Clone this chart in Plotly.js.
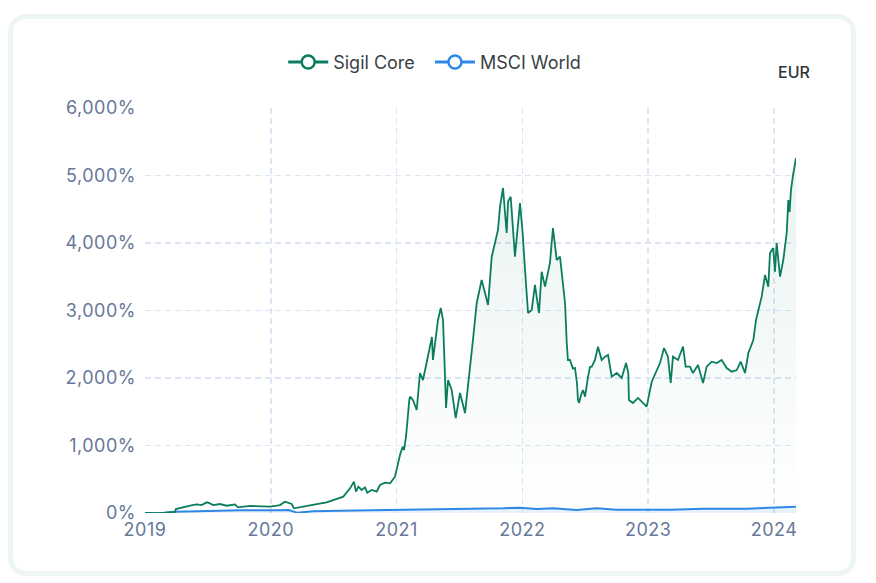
<!DOCTYPE html>
<html>
<head>
<meta charset="utf-8">
<script src="https://cdn.plot.ly/plotly-3.0.1.min.js"></script>
<style>
	html, body { margin: 0; padding: 0; background: #ffffff; }
	#card {
		position: absolute; left: 8px; top: 14px;
		width: 838px; height: 552px;
		border: 5px solid #eef6f3; border-radius: 18px;
		background: #ffffff;
	}
	#chart { position: absolute; left: 0; top: 0; width: 876px; height: 583px; }
	#chart .xtick text, #chart .ytick text { letter-spacing: 0.5px; }
</style>
</head>
<body>
<div id="card"></div>
<div id="chart"></div>
<script>

// dates as decimal years, values in percent
const coreYears = [
	2019.000, 2019.119, 2019.238, 2019.246, 2019.358, 2019.411, 2019.451, 2019.490, 2019.517, 2019.541,
	2019.596, 2019.649, 2019.715, 2019.739, 2019.835, 2019.914, 2019.994, 2020.047, 2020.073, 2020.113,
	2020.139, 2020.166, 2020.184, 2020.206, 2020.285, 2020.365, 2020.444, 2020.524, 2020.576, 2020.630,
	2020.661, 2020.677, 2020.696, 2020.723, 2020.749, 2020.767, 2020.802, 2020.842, 2020.868, 2020.908,
	2020.948, 2020.987, 2021.014, 2021.027, 2021.048, 2021.059, 2021.075, 2021.085, 2021.101, 2021.107,
	2021.130, 2021.160, 2021.186, 2021.210, 2021.250, 2021.281, 2021.289, 2021.329, 2021.351, 2021.369,
	2021.385, 2021.393, 2021.409, 2021.438, 2021.470, 2021.504, 2021.544, 2021.583, 2021.607, 2021.637,
	2021.676, 2021.703, 2021.727, 2021.756, 2021.782, 2021.806, 2021.822, 2021.846, 2021.875, 2021.886,
	2021.907, 2021.941, 2021.981, 2022.002, 2022.021, 2022.045, 2022.074, 2022.100, 2022.132, 2022.153,
	2022.180, 2022.219, 2022.243, 2022.273, 2022.299, 2022.323, 2022.339, 2022.352, 2022.362, 2022.378,
	2022.402, 2022.418, 2022.434, 2022.442, 2022.450, 2022.471, 2022.482, 2022.498, 2022.512, 2022.522,
	2022.537, 2022.551, 2022.577, 2022.601, 2022.630, 2022.657, 2022.681, 2022.710, 2022.750, 2022.789,
	2022.824, 2022.842, 2022.847, 2022.879, 2022.919, 2022.948, 2022.988, 2023.028, 2023.068, 2023.094,
	2023.126, 2023.157, 2023.179, 2023.197, 2023.237, 2023.277, 2023.298, 2023.332, 2023.356, 2023.396,
	2023.436, 2023.465, 2023.505, 2023.545, 2023.584, 2023.624, 2023.664, 2023.704, 2023.735, 2023.770,
	2023.796, 2023.836, 2023.857, 2023.875, 2023.902, 2023.929, 2023.955, 2023.968, 2023.994, 2024.008,
	2024.021, 2024.048, 2024.074, 2024.101, 2024.114, 2024.124, 2024.135, 2024.151, 2024.175
];

const coreValues = [
	0, -3, 18, 59, 108, 128, 118, 158, 143, 118,
	133, 108, 128, 84, 104, 94, 94, 108, 118, 167,
	153, 133, 70, 79, 104, 133, 158, 203, 242, 365,
	464, 316, 390, 341, 380, 301, 341, 316, 415, 449,
	440, 538, 785, 859, 982, 933, 1130, 1378, 1674, 1723,
	1674, 1526, 2074, 1970, 2340, 2607, 2267, 2860, 3037, 2860,
	2015, 1555, 1970, 1822, 1407, 1778, 1481, 2118, 2563, 3111,
	3452, 3259, 3081, 3793, 4000, 4193, 4538, 4815, 4148, 4612,
	4686, 3797, 4593, 4148, 3600, 2963, 3007, 3378, 2963, 3575,
	3353, 3704, 4222, 3748, 3797, 3420, 3111, 2540, 2267, 2267,
	2140, 2150, 1926, 1674, 1630, 1778, 1822, 1723, 1926, 2020,
	2163, 2168, 2267, 2464, 2267, 2316, 2341, 2020, 2074, 2000,
	2222, 2074, 1674, 1630, 1704, 1649, 1575, 1945, 2118, 2222,
	2444, 2316, 1926, 2316, 2267, 2464, 2168, 2168, 2074, 2193,
	1926, 2168, 2242, 2222, 2267, 2148, 2094, 2118, 2242, 2074,
	2370, 2563, 2860, 3007, 3205, 3526, 3353, 3852, 3926, 3575,
	4000, 3501, 3748, 4148, 4637, 4460, 4785, 5000, 5259
];

const msciYears = [
	2019.000, 2019.119, 2019.238, 2019.490, 2019.761, 2020.024, 2020.143, 2020.208, 2020.339, 2020.549,
	2020.811, 2021.080, 2021.583, 2021.846, 2021.981, 2022.114, 2022.243, 2022.431, 2022.590, 2022.750,
	2022.988, 2023.172, 2023.437, 2023.781, 2023.963, 2024.175
];

const msciValues = [
	0, -5, 19, 30, 40, 40, 44, 5, 25, 34,
	44, 49, 64, 70, 79, 59, 70, 44, 70, 49,
	49, 49, 64, 64, 79, 94
];

const yearTicks = [ 2019, 2020, 2021, 2022, 2023, 2024 ];
const seriesNames = [ 'Sigil Core\u00a0\u00a0', 'MSCI World' ];
const currency = 'EUR';

const green = '#0b7d5f';
const blue = '#2f88e6';
const gridColor = '#dce6f4';
const fontFamily = 'Inter, "Open Sans", sans-serif';

function createPerformanceChart() {

	const core = {
		x: coreYears,
		y: coreValues,
		type: 'scatter',
		mode: 'lines',
		line: { color: green, width: 1.8 },
		fill: 'tozeroy',
		fillgradient: {
			type: 'vertical',
			colorscale: [ [ 0, 'rgba(11,125,95,0.0)' ], [ 1, 'rgba(11,125,95,0.09)' ] ]
		},
		showlegend: false,
		hoverinfo: 'skip'
	};

	const msci = {
		x: msciYears,
		y: msciValues,
		type: 'scatter',
		mode: 'lines',
		line: { color: blue, width: 2 },
		fill: 'tozeroy',
		fillcolor: 'rgba(47,136,230,0.12)',
		showlegend: false,
		hoverinfo: 'skip'
	};

	// legend-only entries so the circle shows in the legend but not on the lines
	const legendItems = [ green, blue ].map( ( c, i ) => ( {
		x: [ null ],
		y: [ null ],
		type: 'scatter',
		mode: 'lines+markers',
		name: seriesNames[ i ],
		line: { color: c, width: 3 },
		marker: { color: '#ffffff', size: 13, line: { color: c, width: 2.5 } }
	} ) );

	const layout = {
		width: 876,
		height: 583,
		margin: { l: 145, r: 80, t: 108, b: 70 },
		paper_bgcolor: 'rgba(0,0,0,0)',
		plot_bgcolor: 'rgba(0,0,0,0)',
		font: { family: fontFamily, size: 18, color: '#67789a' },
		showlegend: true,
		legend: {
			orientation: 'h',
			x: 0.445,
			xanchor: 'center',
			y: 1.113,
			yanchor: 'middle',
			font: { size: 18, color: '#3a3f44' },
			itemwidth: 40
		},
		xaxis: {
			type: 'linear',
			range: [ 2019, 2024.175 ],
			tickvals: yearTicks.concat( [ 2024.175 ] ),
			ticktext: yearTicks.map( String ).concat( [ '' ] ),
			showgrid: true,
			gridcolor: gridColor,
			griddash: '6px,4px',
			gridwidth: 1.5,
			zeroline: false,
			showline: false,
			ticks: '',
			ticklabelstandoff: 4
		},
		yaxis: {
			range: [ 0, 6000 ],
			tickvals: [ 0, 1000, 2000, 3000, 4000, 5000, 6000 ],
			ticktext: [ '0%', '1,000%', '2,000%', '3,000%', '4,000%', '5,000%', '6,000%' ],
			showgrid: true,
			gridcolor: gridColor,
			griddash: '6px,4px',
			gridwidth: 1.5,
			zeroline: false,
			showline: false,
			ticks: '',
			ticklabelstandoff: 8
		},
		annotations: [ {
			text: currency,
			xref: 'paper',
			yref: 'paper',
			x: 1.0246,
			y: 1.089,
			xanchor: 'right',
			yanchor: 'middle',
			showarrow: false,
			font: { size: 16, color: '#2d3339', weight: 500 }
		} ]
	};

	Plotly.newPlot( 'chart', [ msci, core ].concat( legendItems ), layout, { staticPlot: true } );
}

createPerformanceChart();

</script>
</body>
</html>
